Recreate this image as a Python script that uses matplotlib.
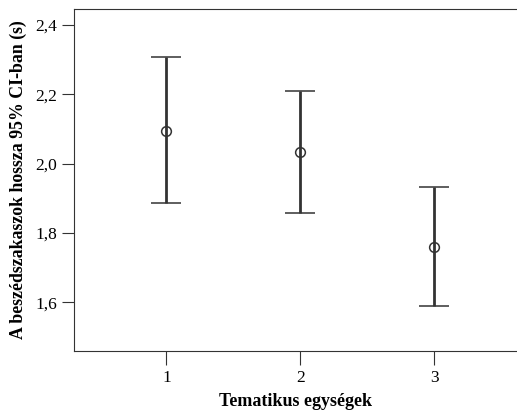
import matplotlib
matplotlib.use('Agg')
import matplotlib.pyplot as plt

# data (means and 95% CI bounds)
groups = [1, 2, 3]
means = [2.094, 2.033, 1.760]
ci_upper = [2.307, 2.210, 1.933]
ci_lower = [1.885, 1.857, 1.589]
yticks = [1.6, 1.8, 2.0, 2.2, 2.4]
ytick_labels = ['1,6', '1,8', '2,0', '2,2', '2,4']

plt.rcParams['font.family'] = ['Liberation Serif', 'DejaVu Serif']

fig = plt.figure(figsize=(5.17, 4.15), dpi=100)
ax = fig.add_axes([74/517, 1 - 351/415, 1 - 74/517, (351 - 9)/415])

err_low = [m - lo for m, lo in zip(means, ci_lower)]
err_high = [hi - m for m, hi in zip(means, ci_upper)]
ax.errorbar(groups, means, yerr=[err_low, err_high], fmt='o', color='#333333',
            mfc='none', mec='#333333', ms=7, mew=1.1, elinewidth=2.0,
            capsize=11, capthick=2.0)

ax.set_xlim(0.31, 3.62)
ax.set_ylim(1.459, 2.446)
ax.set_xticks(groups)
ax.set_xticklabels([str(g) for g in groups], fontsize=12.5)
ax.set_yticks(yticks)
ax.set_yticklabels(ytick_labels, fontsize=12.5)
ax.tick_params(axis='x', length=10, width=0.8, color='#333333', pad=4)
ax.tick_params(axis='y', length=9, width=0.8, color='#333333', pad=3)
for s in ['left', 'bottom', 'top']:
    ax.spines[s].set_linewidth(0.8)
    ax.spines[s].set_color('#333333')
ax.spines['right'].set_visible(False)

ax.set_xlabel('Tematikus egységek', fontsize=13, fontweight='bold', labelpad=5)
ax.set_ylabel('A beszédszakaszok hossza 95% CI-ban (s)', fontsize=12.8,
              fontweight='bold', labelpad=6)

fig.savefig('out.png', dpi=100)
